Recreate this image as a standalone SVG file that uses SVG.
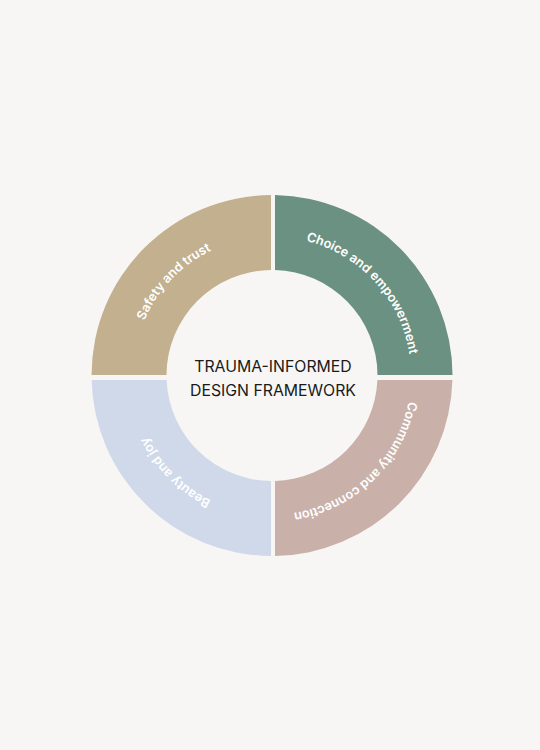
<svg xmlns="http://www.w3.org/2000/svg" width="540" height="750" viewBox="0 0 540 750">
<style>
.seg-label{font-family:Inter,"Noto Sans","Liberation Sans",sans-serif;font-size:12.8px;font-weight:600;fill:#ffffff;}
.title{font-family:Inter,"Noto Sans","Liberation Sans",sans-serif;font-size:15.8px;font-weight:400;fill:#1a1a1a;}
</style>
<defs>
<path id="arcTL" d="M133,375.5 A139,139 0 0 1 272,236.5"/>
<path id="arcTR" d="M272,236.5 A139,139 0 0 1 411,375.5"/>
<path id="arcBR" d="M411,375.5 A139,139 0 0 1 272,514.5"/>
<path id="arcBL" d="M272,514.5 A139,139 0 0 1 133,375.5"/>
</defs>
<rect x="0" y="0" width="540" height="750" fill="#f7f6f4"/>
<g id="safety">
<path d="M271,195 A180.5,180.5 0 0 0 91.5,375 L166.5,375 A105.5,105.5 0 0 1 271,270 Z" fill="#c2b08e"/>
<text class="seg-label"><textPath href="#arcTL" startOffset="48.5%" text-anchor="middle">Safety and trust</textPath></text>
</g>
<g id="choice">
<path d="M275,195 A180.5,180.5 0 0 1 452.5,375 L377.5,375 A105.5,105.5 0 0 0 275,270 Z" fill="#6a9181"/>
<text class="seg-label"><textPath href="#arcTR" startOffset="53%" text-anchor="middle">Choice and empowerment</textPath></text>
</g>
<g id="community">
<path d="M452.4,380 A180.5,180.5 0 0 1 275,556 L275,481 A105.5,105.5 0 0 0 377.4,380 Z" fill="#c9b1aa"/>
<text class="seg-label"><textPath href="#arcBR" startOffset="51%" text-anchor="middle">Community and connection</textPath></text>
</g>
<g id="beauty">
<path d="M271,556 A180.5,180.5 0 0 1 91.6,380 L166.6,380 A105.5,105.5 0 0 0 271,481 Z" fill="#cfd9ea"/>
<text class="seg-label"><textPath href="#arcBL" startOffset="50%" text-anchor="middle">Beauty and joy</textPath></text>
</g>
<g id="center">
<text class="title" x="273" y="371.7" text-anchor="middle">TRAUMA-INFORMED</text>
<text class="title" x="273" y="395.7" text-anchor="middle">DESIGN FRAMEWORK</text>
</g>
<g id="connectors"></g>
</svg>
